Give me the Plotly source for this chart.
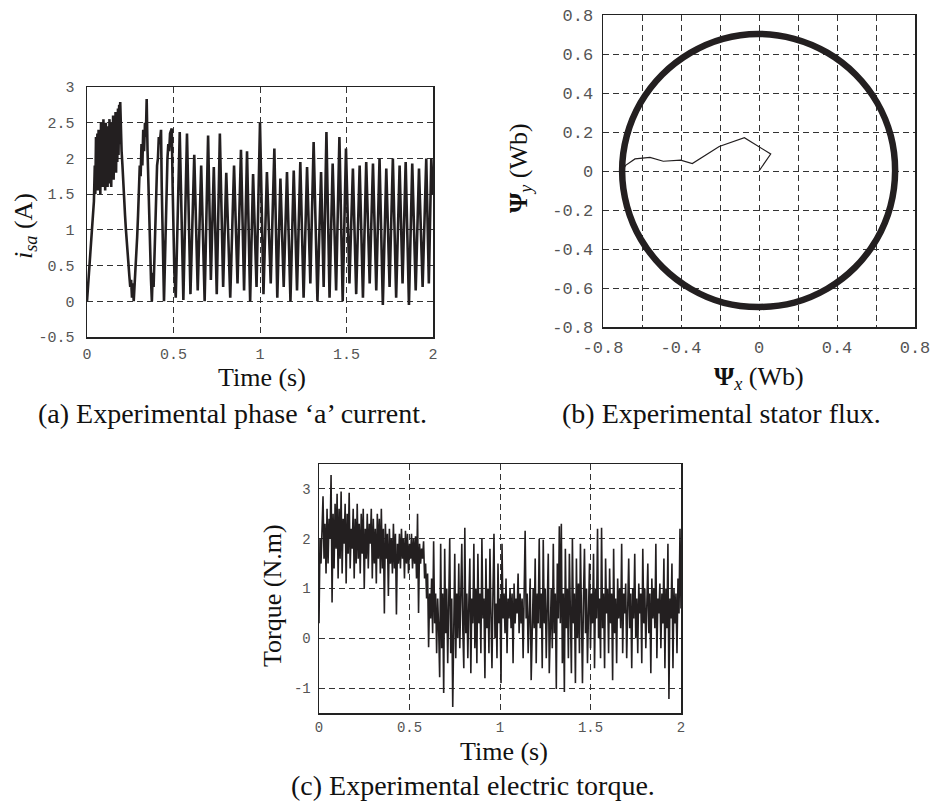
import numpy as np
import plotly.graph_objects as go

# ---------------- (a) phase 'a' current: read extrema (t [s], i [A]) ----------------
t_cur = [0.000, 0.008, 0.020, 0.030, 0.040, 0.045, 0.048, 0.052, 0.056,
         0.060, 0.063, 0.067, 0.070, 0.074, 0.077, 0.081, 0.084, 0.088, 0.091,
         0.095, 0.098, 0.102, 0.105, 0.109, 0.112, 0.116, 0.119, 0.123, 0.126,
         0.130, 0.133, 0.137, 0.140, 0.144, 0.147, 0.151, 0.154, 0.158, 0.161,
         0.165, 0.168, 0.172, 0.175, 0.179, 0.182, 0.186, 0.189, 0.192, 0.195,
         0.200, 0.205, 0.210, 0.215, 0.220, 0.225, 0.230, 0.235, 0.240, 0.245,
         0.250, 0.255, 0.260, 0.265, 0.270, 0.275, 0.280, 0.285, 0.290, 0.295,
         0.300, 0.305, 0.310, 0.315, 0.320, 0.325, 0.330, 0.335, 0.340, 0.345,
         0.350, 0.355, 0.360, 0.365, 0.370, 0.375, 0.380, 0.385, 0.390, 0.395,
         0.400, 0.405, 0.410, 0.415, 0.420, 0.428, 0.432, 0.436, 0.440, 0.445,
         0.450, 0.455, 0.460, 0.465, 0.470, 0.475, 0.480, 0.490, 0.495, 0.500,
         0.505, 0.513,
         0.536, 0.557, 0.578, 0.598, 0.620, 0.640, 0.660, 0.680, 0.700, 0.716,
         0.733, 0.750, 0.768, 0.787, 0.805, 0.828, 0.850, 0.870, 0.890, 0.908,
         0.925, 0.943, 0.960, 0.980, 1.000, 1.020, 1.040, 1.062, 1.083, 1.100,
         1.118, 1.137, 1.156, 1.176, 1.195, 1.214, 1.233, 1.252, 1.272, 1.291,
         1.310, 1.332, 1.353, 1.368, 1.384, 1.402, 1.420, 1.440, 1.459, 1.478,
         1.497, 1.517, 1.537, 1.556, 1.576, 1.595, 1.614, 1.634, 1.653, 1.672,
         1.691, 1.710, 1.730, 1.749, 1.768, 1.787, 1.807, 1.824, 1.842, 1.861,
         1.880, 1.900, 1.919, 1.940, 1.961, 1.976, 1.990, 2.000]
i_cur = [0.00, 0.30, 0.70, 1.00, 1.40, 1.90, 1.50, 2.30, 1.60,
         2.35, 1.55, 2.40, 1.70, 2.30, 1.50, 2.50, 1.65, 2.45, 1.60,
         2.55, 1.75, 2.35, 1.55, 2.50, 1.70, 2.45, 1.60, 2.40, 1.80,
         2.55, 1.65, 2.35, 1.60, 2.50, 1.75, 2.60, 1.70, 2.55, 1.85,
         2.65, 1.80, 2.60, 1.95, 2.70, 2.05, 2.75, 2.20, 2.79, 2.30,
         2.10, 1.90, 1.60, 1.50, 1.20, 1.00, 0.80, 0.60, 0.50, 0.35,
         0.20, 0.30, 0.05, 0.25, 0.00, 0.20, 0.40, 0.60, 0.90, 1.20,
         1.60, 1.90, 1.75, 2.20, 1.90, 2.40, 2.10, 2.50, 2.30, 2.83,
         2.10, 1.60, 1.00, 0.60, 0.30, 0.00, 0.40, 0.20, 0.70, 1.10,
         1.50, 1.90, 2.00, 2.30, 2.20, 2.40, 1.60, 1.00, 0.50, 0.00,
         0.50, 1.10, 1.60, 2.00, 2.20, 2.10, 2.35, 2.42, 1.60, 0.90,
         0.40, 0.05,
         2.37, 0.02, 2.35, 0.10, 2.05, 0.15, 1.90, 0.00, 2.32, 0.30,
         1.88, 0.10, 2.35, 0.20, 1.80, 0.05, 1.90, 0.25, 2.12, 0.15,
         2.10, 0.00, 1.78, 0.20, 2.50, 0.10, 1.81, 0.25, 2.14, 0.05,
         1.72, 0.20, 1.81, 0.00, 1.83, 0.15, 1.95, 0.05, 1.88, 0.25,
         2.23, 0.00, 1.81, 0.20, 2.37, 0.05, 1.93, 0.15, 2.30, 0.00,
         2.14, 0.25, 1.86, 0.10, 1.90, 0.05, 1.95, 0.25, 1.93, 0.15,
         2.00, -0.05, 1.86, 0.20, 2.00, 0.05, 1.90, 0.25, 1.95, -0.05,
         1.93, 0.15, 1.86, 0.20, 2.00, 0.25, 2.00, 1.50]

# ---------------- (b) stator flux locus: read points (Wb) ----------------
flux_circle_x = [0.698, 0.676, 0.606, 0.495, 0.350, 0.180, -0.005, -0.185, -0.352,
                 -0.497, -0.608, -0.678, -0.702, -0.677, -0.606, -0.494, -0.349,
                 -0.180, 0.000, 0.181, 0.350, 0.494, 0.604, 0.674, 0.698]
flux_circle_y = [0.000, 0.180, 0.350, 0.495, 0.607, 0.678, 0.703, 0.678, 0.606,
                 0.494, 0.349, 0.180, 0.000, -0.181, -0.350, -0.494, -0.605,
                 -0.676, -0.697, -0.675, -0.604, -0.493, -0.349, -0.181, 0.000]
flux_start_x = [0.000, 0.060, -0.075, -0.204, -0.342, -0.402, -0.491, -0.559, -0.636, -0.684, -0.702]
flux_start_y = [0.000, 0.087, 0.171, 0.126, 0.038, 0.056, 0.050, 0.070, 0.062, 0.029, 0.000]

# ---------------- (c) electric torque samples (N.m), sample period 1/180 s ----------------
torque_dt = 1.0 / 180.0
torque = [
    0.3, 2.0, 1.5, 2.5, 2.85, 1.6, 2.3, 1.3, 2.6, 1.5, 2.4, 2.0, 3.28, 0.72, 2.5, 1.4, 2.7, 1.8, 2.9, 1.2,
    2.6, 1.6, 2.95, 1.3, 2.4, 1.9, 2.7, 1.1, 2.5, 1.7, 2.92, 1.4, 2.2, 1.8, 2.6, 1.2, 2.4, 1.5, 2.7, 1.6,
    2.3, 1.3, 2.5, 1.7, 2.6, 1.0, 2.2, 1.6, 2.5, 1.4, 2.3, 1.9, 2.6, 1.2, 2.4, 1.5, 2.2, 1.1, 2.5, 1.6,
    2.4, 1.3, 2.6, 1.4, 2.2, 0.5, 2.3, 1.6, 2.1, 0.85, 2.2, 1.5, 2.0, 1.3, 2.3, 1.4, 2.1, 0.48, 1.9, 1.5,
    2.1, 1.4, 2.2, 1.6, 2.0, 1.2, 2.16, 1.5, 2.1, 1.3, 1.9, 1.6, 2.1, 1.4, 2.0, 1.5, 2.05, 1.2, 2.5, 0.51,
    1.9, 1.5, 1.8, 1.6, 1.95, 1.2, 1.5, 0.8, 1.3, -0.18, 0.9, 0.4, 1.2, 0.1, 1.95, 0.3, 0.9, -0.3, 0.8, 0.2,
    -0.78, 1.9, -0.2, 0.9, -1.1, 1.8, 0.1, 1.0, -0.5, 0.7, 2.0, -0.3, 0.8, -1.38, 0.6, 1.7, -0.4, 0.9, 0.0, 1.5,
    -0.2, 0.8, 1.9, 0.2, -0.6, 2.22, 0.1, 0.9, -0.4, 0.7, 1.6, -0.7, 0.8, 0.3, 1.9, -0.2, 1.0, -0.5, 1.7, 0.3,
    0.9, -0.3, 2.0, 0.4, 0.8, -0.8, 1.6, 0.2, 1.0, -0.3, 1.8, 0.5, -0.6, 0.9, 2.1, 0.0, 0.7, -0.4, 1.5, 0.3,
    0.8, -0.9, 1.9, 0.4, 0.9, 0.1, 1.2, -0.3, 0.8, 0.4, 1.0, 0.2, 0.9, -0.5, 1.1, 0.3, 0.8, 0.5, 1.3, 0.1,
    0.9, 0.3, 0.8, -0.4, 1.0, 2.16, 0.4, 0.9, -0.3, 0.7, 1.2, -0.84, 0.6, 1.0, 0.2, 1.6, -0.5, 0.9, 0.3, 2.0,
    0.2, 0.9, -0.6, 1.98, 0.3, 1.0, -0.4, 0.8, 1.7, -0.7, 0.6, 1.0, -0.2, 1.9, 0.1, 0.9, -1.02, 1.5, 0.4, 2.25,
    0.3, 2.3, -0.5, 0.9, -1.08, 1.8, 0.2, 1.0, -0.4, 1.7, 0.5, -0.7, 2.0, 0.3, 0.9, -0.9, 1.6, 0.0, 1.1, -0.3,
    1.9, 0.4, -0.9, 0.8, 1.8, 0.1, 1.0, -0.5, 0.7, 1.5, -0.2, 0.9, 0.3, 1.7, -0.6, 1.0, 0.4, 2.2, 0.0, 0.8,
    -0.4, 2.22, 0.2, 0.9, -0.6, 1.6, 0.5, 1.0, -0.3, 1.4, 0.3, 0.9, -0.84, 1.8, 0.1, 0.8, -0.5, 1.2, 0.4, 1.0,
    0.2, 1.9, -0.3, 0.9, 0.5, 1.1, -0.4, 0.8, 1.6, 0.2, 0.9, -0.6, 1.0, 0.4, 1.7, 0.0, 0.8, -0.3, 1.1, 0.5,
    0.9, -0.5, 1.8, 0.3, 1.0, -0.2, 0.7, 1.5, 0.1, 0.9, -0.7, 1.2, 0.4, 1.0, 0.2, 1.9, -0.4, 0.8, 0.5, 1.1,
    -0.2, 0.9, 0.3, 1.6, -0.6, 1.0, 0.2, 1.9, -1.22, 0.8, 0.4, 1.5, -0.6, 1.0, 0.3, 0.9, -0.3, 1.2, 0.5, 2.2, 0.6,
]
t_torque = np.arange(len(torque)) * torque_dt

# ---------------- tick labels ----------------
time_ticks = [0, 0.5, 1, 1.5, 2]
time_ticktext = ["0", "0.5", "1", "1.5", "2"]
cur_ticks = [-0.5, 0, 0.5, 1, 1.5, 2, 2.5, 3]
cur_ticktext = ["-0.5", "0", "0.5", "1", "1.5", "2", "2.5", "3"]
flux_x_ticks = [-0.8, -0.4, 0, 0.4, 0.8]
flux_x_ticktext = ["-0.8", "-0.4", "0", "0.4", "0.8"]
flux_x_minor = [-0.6, -0.2, 0.2, 0.6]
flux_y_ticks = [-0.8, -0.6, -0.4, -0.2, 0, 0.2, 0.4, 0.6, 0.8]
flux_y_ticktext = ["-0.8", "-0.6", "-0.4", "-0.2", "0", "0.2", "0.4", "0.6", "0.8"]
torque_ticks = [-1, 0, 1, 2, 3]
torque_ticktext = ["-1", "0", "1", "2", "3"]

LINE = "#231f20"
W, H = 938, 801
GRID = dict(gridcolor="#333", gridwidth=1, griddash="6px,4px")

fig = go.Figure()
fig.add_trace(go.Scatter(x=t_cur, y=i_cur, mode="lines", line=dict(color=LINE, width=2.6),
                         xaxis="x", yaxis="y", showlegend=False))
fig.add_trace(go.Scatter(x=flux_circle_x, y=flux_circle_y, mode="lines",
                         line=dict(color=LINE, width=6.5, shape="spline"),
                         xaxis="x2", yaxis="y2", showlegend=False))
fig.add_trace(go.Scatter(x=flux_start_x, y=flux_start_y, mode="lines",
                         line=dict(color=LINE, width=1.2),
                         xaxis="x2", yaxis="y2", showlegend=False))
fig.add_trace(go.Scatter(x=t_torque, y=torque, mode="lines", line=dict(color=LINE, width=1.6),
                         xaxis="x3", yaxis="y3", showlegend=False))


def px_dom_x(a, b):
    return [a / W, b / W]


def px_dom_y(top, bottom):
    return [1 - bottom / H, 1 - top / H]


def ax(domain, rng, tickvals, ticktext, size, anchor, standoff, minor=None):
    d = dict(domain=domain, range=rng, tickmode="array", tickvals=tickvals, ticktext=ticktext,
             showline=True, mirror=True, linecolor="#222", linewidth=1.5,
             showgrid=True, zeroline=False, ticks="", anchor=anchor, ticklabelstandoff=standoff,
             automargin=False,
             tickfont=dict(family="Liberation Mono, Courier New, monospace", size=size, color="#555"),
             fixedrange=True, **GRID)
    if minor is not None:
        d["minor"] = dict(tickmode="array", tickvals=minor, showgrid=True, ticks="", **GRID)
    return d


layout = dict(
    width=W, height=H, margin=dict(l=0, r=0, t=0, b=0, autoexpand=False),
    paper_bgcolor="white", plot_bgcolor="white", showlegend=False,
    xaxis=ax(px_dom_x(87, 433), [0, 2], time_ticks, time_ticktext, 15, "y", 2),
    yaxis=ax(px_dom_y(87, 337), [-0.5, 3], cur_ticks, cur_ticktext, 15, "x", 8),
    xaxis2=ax(px_dom_x(603, 915), [-0.8, 0.8], flux_x_ticks, flux_x_ticktext, 17, "y2", 4,
              minor=flux_x_minor),
    yaxis2=ax(px_dom_y(15, 327), [-0.8, 0.8], flux_y_ticks, flux_y_ticktext, 17, "x2", 5),
    xaxis3=ax(px_dom_x(319, 681), [0, 2], time_ticks, time_ticktext, 14, "y3", 1),
    yaxis3=ax(px_dom_y(464, 713), [-1.5, 3.5], torque_ticks, torque_ticktext, 14, "x3", 4),
)
fig.update_layout(**layout)

SERIF = "Liberation Serif, Times New Roman, serif"


def note(text, x, y, size, angle=0):
    fig.add_annotation(text=text, x=x / W, y=1 - y / H, xref="paper", yref="paper",
                       xanchor="center", yanchor="middle", showarrow=False, textangle=angle,
                       font=dict(family=SERIF, size=size, color="#111"))


note("Time (s)", 262, 377, 26)
note("<i>i</i><sub><i>sa</i></sub> (A)", 25, 226, 26, -90)
note("(a) Experimental phase \u2018a\u2019 current.", 232, 413, 28)

note("<b>\u03a8</b><sub><i>x</i></sub> (Wb)", 759, 378, 26)
note("<b>\u03a8</b><sub><i>y</i></sub> (Wb)", 520, 168, 26, -90)
note("(b) Experimental stator flux.", 721, 413, 28)

note("Time (s)", 504, 751, 26)
note("Torque (N.m)", 272, 596, 26, -90)
note("(c) Experimental electric torque.", 473, 785, 28)

fig.write_html(
    "out.html",
    config={"displayModeBar": False, "staticPlot": True},
    post_script="document.body.style.margin='0';document.body.style.overflow='hidden';",
)
